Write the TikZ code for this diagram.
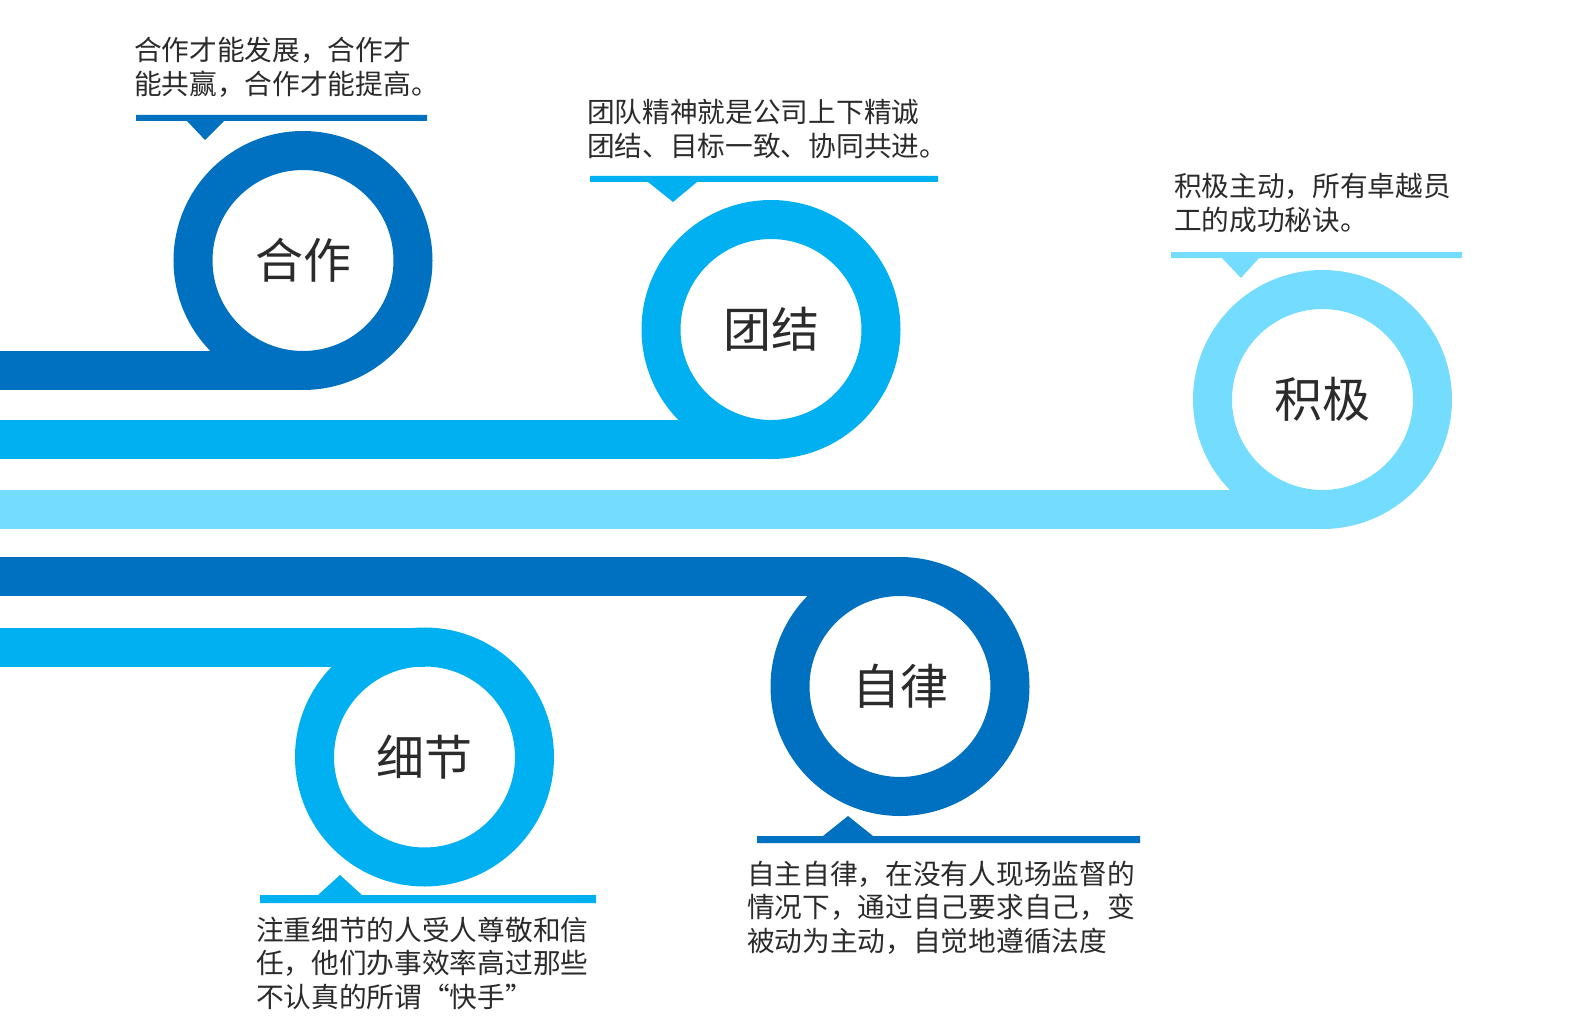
\documentclass[tikz,border=0pt]{standalone}
\usepackage{fontspec}
\setmainfont{Noto Sans CJK SC}
\usetikzlibrary{positioning}
\definecolor{darkblue}{HTML}{0070C0}
\definecolor{midblue}{HTML}{00B0F0}
\definecolor{lightblue}{HTML}{74DCFF}
\definecolor{textgray}{HTML}{2B2B2B}

\begin{document}
\begin{tikzpicture}[x=1pt,y=-1pt]
\tikzstyle{every node}+=[inner sep=0pt,outer sep=0pt,text=textgray]
\tikzstyle{ring}=[circle,line width=39pt,minimum size=220pt,font=\fontsize{48}{56}\selectfont]
\tikzstyle{band}=[line width=39pt]
\tikzstyle{note}=[anchor=base west,align=left,font=\fontsize{27.7}{33.6}\selectfont]
\useasboundingbox (0,0) rectangle (1574,1035);
\coordinate (edge) at (0,0);
\node [ring,draw=darkblue] (hezuo) at (303,260.5) {合作};
\node [ring,draw=midblue] (tuanjie) at (771,329.5) {团结};
\node [ring,draw=lightblue] (jiji) at (1322.5,399.5) {积极};
\node [ring,draw=darkblue] (zilv) at (900,686.5) {自律};
\node [ring,draw=midblue] (xijie) at (424.5,757) {细节};
\draw [band,darkblue] (edge |- hezuo.south) -- (hezuo.south);
\draw [band,midblue] (edge |- tuanjie.south) -- (tuanjie.south);
\draw [band,lightblue] (edge |- jiji.south) -- (jiji.south);
\draw [band,darkblue] (edge |- zilv.north) -- (zilv.north);
\draw [band,midblue] (edge |- xijie.north) -- (xijie.north);
\fill [darkblue] (136,115) -- (427,115) -- (427,121) -- (224,121) -- (205,140) -- (187,121) -- (136,121) -- cycle;
\fill [midblue] (590,176) -- (938,176) -- (938,182) -- (697,182) -- (673,202) -- (648,182) -- (590,182) -- cycle;
\fill [lightblue] (1171,252) -- (1462,252) -- (1462,258) -- (1259,258) -- (1241,278) -- (1222,258) -- (1171,258) -- cycle;
\fill [darkblue] (757,843) -- (1140,843) -- (1140,836) -- (873,836) -- (848,816) -- (823,836) -- (757,836) -- cycle;
\fill [midblue] (260,903) -- (596,903) -- (596,895) -- (362,895) -- (340,875) -- (318,895) -- (260,895) -- cycle;
% base anchor sits on the last line
\node [note] (hezuo-note) at (134,94.1) {合作才能发展，合作才\\能共赢，合作才能提高。};
\node [note] (tuanjie-note) at (587,156.6) {团队精神就是公司上下精诚\\团结、目标一致、协同共进。};
\node [note] (jiji-note) at (1174,230.6) {积极主动，所有卓越员\\工的成功秘诀。};
\node [note] (zilv-note) at (747,951.2) {自主自律，在没有人现场监督的\\情况下，通过自己要求自己，变\\被动为主动，自觉地遵循法度};
\node [note] (xijie-note) at (256,1007.2) {注重细节的人受人尊敬和信\\任，他们办事效率高过那些\\不认真的所谓“快手”};
\end{tikzpicture}
\end{document}
